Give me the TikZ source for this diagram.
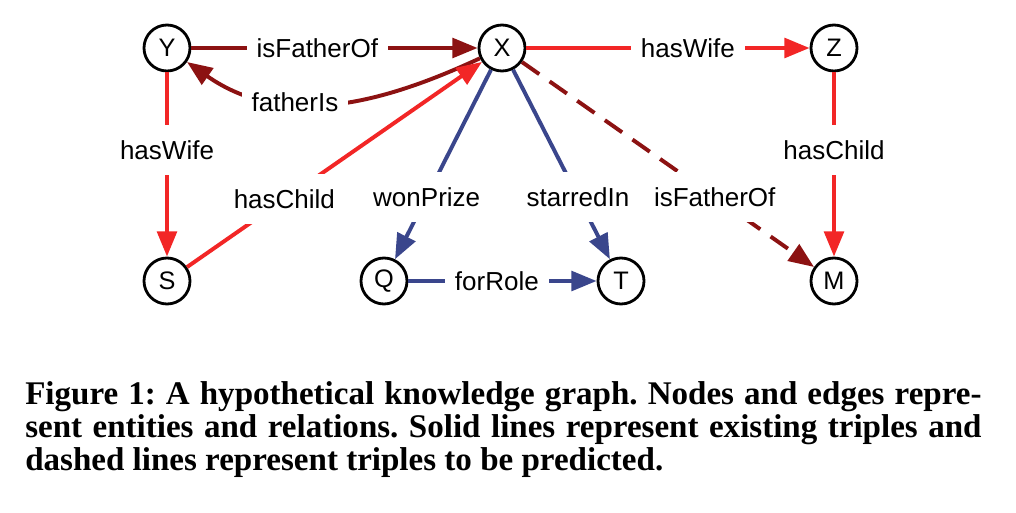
\documentclass[tikz,border=0pt]{standalone}
\usepackage{fontspec}
\newfontfamily\graphfont{Liberation Sans}
\newfontfamily\captionfont{Liberation Serif}
\usetikzlibrary{arrows.meta,positioning}
\definecolor{kgred}{RGB}{242,38,38}
\definecolor{kgdarkred}{RGB}{140,18,18}
\definecolor{kgblue}{RGB}{58,70,140}
\frenchspacing

\begin{document}
\begin{tikzpicture}[x=0.025cm,y=-0.025cm]
\tikzstyle{entity node}=[circle,draw,line width=2pt,fill=white,minimum size=1.15cm,inner sep=0pt,font=\graphfont\fontsize{18}{22}\selectfont]
\tikzstyle{caption line}=[anchor=base west,inner sep=0pt,font=\captionfont\bfseries\fontsize{23.5}{28}\selectfont]
\tikzset{
	red edge/.style={draw=kgred,line width=2.8pt,-{Triangle[length=18pt,width=14pt]}},
	darkred edge/.style={draw=kgdarkred,line width=2.8pt,-{Triangle[length=18pt,width=14pt]}},
	blue edge/.style={draw=kgblue,line width=2.8pt,-{Triangle[length=18pt,width=14pt]}},
	rel label/.style={fill=white,text=black,inner xsep=7pt,inner ysep=11pt,font=\graphfont\fontsize{18.5}{22}\selectfont}
}
\useasboundingbox (0,0) rectangle (1016,512);

% entities
\node[entity node] (Y) at (167,48) {Y};
\node[entity node] (X) at (502,48) {X};
\node[entity node] (Z) at (834,48) {Z};
\node[entity node] (S) at (167,281) {S};
\node[entity node] (Q) at (384,281) {Q};
\node[entity node] (T) at (621,281) {T};
\node[entity node] (M) at (834,281) {M};

% relations
\draw[darkred edge] (Y) -- node[rel label,pos=0.44] {isFatherOf} (X);
\draw[darkred edge] (X) to[out=205,in=-35] node[rel label,pos=0.62] {fatherIs} (Y);
\draw[red edge] (Y) -- node[rel label,pos=0.42] {hasWife} (S);
\draw[red edge] (S) -- node[rel label,pos=0.33] {hasChild} (X);
\draw[red edge] (X) -- node[rel label,pos=0.57] {hasWife} (Z);
\draw[red edge] (Z) -- node[rel label,pos=0.42] {hasChild} (M);
\draw[blue edge] (X) -- node[rel label,pos=0.67] {wonPrize} (Q);
\draw[blue edge] (X) -- node[rel label,pos=0.67] {starredIn} (T);
\draw[blue edge] (Q) -- node[rel label,pos=0.47] {forRole} (T);
\draw[darkred edge,dash pattern=on 15pt off 9pt] (X) -- node[rel label,pos=0.66] {isFatherOf} (M);

% caption
\node[caption line] (cap1) at (25,404) {\makebox[23.9cm][s]{Figure 1: A hypothetical knowledge graph. Nodes and edges repre-}};
\node[caption line] (cap2) at (25,437) {\makebox[23.9cm][s]{sent entities and relations. Solid lines represent existing triples and}};
\node[caption line] (cap3) at (25,470) {dashed lines represent triples to be predicted.};
\end{tikzpicture}
\end{document}
